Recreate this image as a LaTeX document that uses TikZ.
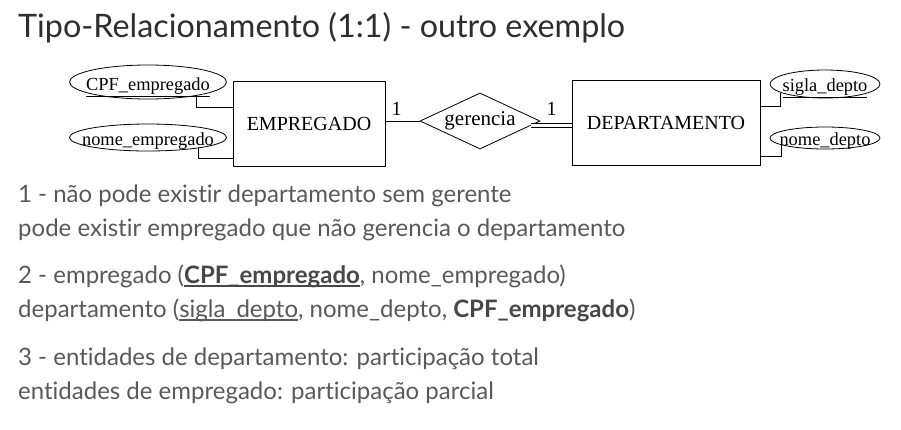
\documentclass[tikz,border=0pt]{standalone}
\usepackage{fontspec}
\setmainfont{Lato}[Ligatures=NoCommon]
\newfontfamily\erfont{Liberation Serif}
\usetikzlibrary{shapes.geometric}
\definecolor{titlecol}{HTML}{2E2E2E}
\definecolor{bodycol}{HTML}{595959}
\definecolor{boldcol}{HTML}{474747}
\newcommand\myul[1]{\setbox0\hbox{#1}\rlap{\rule[-3.5pt]{\wd0}{1.7pt}}\box0}
\newcommand\ztext[2]{\raisebox{#1}[0pt][0pt]{\makebox[0pt]{#2}}}
\tikzset{
  entity/.style={draw, line width=0.9pt, minimum height=85pt, inner sep=0pt, font=\erfont\fontsize{20}{20}\selectfont},
  attr/.style={draw, ellipse, line width=0.8pt, inner sep=0pt, font=\erfont\fontsize{18.4}{18.4}\selectfont},
  rel/.style={draw, diamond, aspect=2.14, line width=0.8pt, inner sep=0pt, minimum width=120pt, minimum height=56pt, font=\erfont\fontsize{21}{21}\selectfont},
  card/.style={inner sep=0pt, font=\erfont\fontsize{20}{20}\selectfont},
  conn/.style={line width=0.8pt},
  bodyline/.style={anchor=base west, inner sep=0pt, text=bodycol, font=\fontsize{24}{28}\selectfont}
}
\begin{document}
\begin{tikzpicture}[x=1pt,y=-1pt]
\useasboundingbox (0,0) rectangle (901,429);
\fill[white] (0,0) rectangle (901,429);

\node[anchor=base west, inner sep=0pt, text=titlecol, font=\fontsize{32.3}{32}\selectfont] (title) at (18,37) {Tipo-Relacionamento (1:1) - outro exemplo};

% ER diagram
\node[entity, minimum width=152pt] (emp) at (309,123.5) {EMPREGADO};
\node[entity, minimum width=188pt] (dep) at (666,123) {DEPARTAMENTO};
\node[rel] (ger) at (480,121) {\raisebox{-6pt}{gerencia}};

% attribute texts: baseline offset from ellipse centre given as first argument
\node[attr, minimum width=157pt, minimum height=34pt] (cpf) at (148,82) {\ztext{-8.5pt}{\underline{CPF\_empregado}}};
\node[attr, minimum width=157pt, minimum height=27pt] (nome) at (148,137.5) {\ztext{-7.5pt}{nome\_empregado}};
\node[attr, minimum width=110pt, minimum height=28pt] (sigla) at (825,84) {\ztext{-7.5pt}{\underline{sigla\_depto}}};
\node[attr, minimum width=110pt, minimum height=22pt] (nomed) at (825,138) {\ztext{-7pt}{nome\_depto}};

\draw[conn] (cpf.-16) |- ([yshift=16.5pt]emp.west);
\draw[conn] (nome.-12) |- ([yshift=-34.5pt]emp.west);
\draw[conn] (sigla.191.5) |- ([yshift=17pt]dep.east);
\draw[conn] (nomed.189) |- ([yshift=-33pt]dep.east);

\draw[conn] (ger.west) -- (ger.west -| emp.east);
\draw[conn, double, double distance=2.6pt] (ger.-5) -- (ger.-5 -| dep.west);

\node[card] (c1) at (396.5,109) {1};
\node[card] (c2) at (551.5,109) {1};

% text
\node[bodyline] (l1) at (18,202) {1 - não pode existir departamento sem gerente};
\node[bodyline] (l2) at (18,236) {pode existir empregado que não gerencia o departamento};
\node[bodyline] (l3) at (18,283) {2 - empregado ({\color{boldcol}\bfseries\myul{CPF\_empregado}}, nome\_empregado)};
\node[bodyline] (l4) at (18,317) {departamento (\myul{sigla\_depto}, nome\_depto, {\color{boldcol}\bfseries CPF\_empregado})};
\node[bodyline] (l5) at (18,365) {3 - entidades de departamento: participação total};
\node[bodyline] (l6) at (18,399) {entidades de empregado: participação parcial};
\end{tikzpicture}
\end{document}
